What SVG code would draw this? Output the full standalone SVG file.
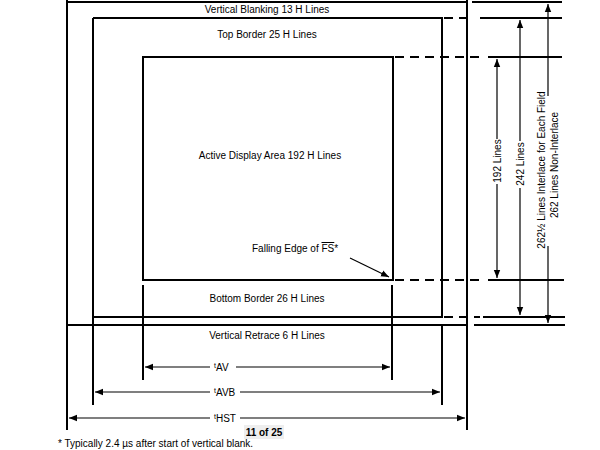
<svg xmlns="http://www.w3.org/2000/svg" width="600" height="450" viewBox="0 0 600 450">
<style>
.l{stroke:#000;stroke-width:2;fill:none}
.t{stroke:#000;stroke-width:1.2;fill:none}
.d{stroke:#000;stroke-width:2;stroke-dasharray:9,6;fill:none}
text{font-family:"Liberation Sans",Arial,sans-serif;font-size:10px;fill:#000}
.c{text-anchor:middle}
</style>
<defs>
<marker id="a" viewBox="0 0 10 10" refX="10" refY="5" markerWidth="8" markerHeight="8" orient="auto-start-reverse" markerUnits="userSpaceOnUse"><path d="M0,1 L10,5 L0,9 z" fill="#000"/></marker>
</defs>
<rect width="600" height="450" fill="#fff"/>
<g id="outer"><path class="l" d="M67,0 V430 M67,2 H467 M67,325 H467 M467,0 V430"/><text class="c" x="267" y="13">Vertical Blanking 13 H Lines</text><text class="c" x="267" y="339">Vertical Retrace 6 H Lines</text></g>
<g id="border"><path class="l" d="M93,18 V405 M93,18 H442 V317 H93 M442,325 V405"/><text class="c" x="267" y="38">Top Border 25 H Lines</text><text class="c" x="267" y="302">Bottom Border 26 H Lines</text></g>
<g id="active"><path class="l" d="M143,57 H393 V280 H143 Z M143,285 V380 M392,285 V380"/><text class="c" x="270" y="159">Active Display Area 192 H Lines</text><text x="252" y="252">Falling Edge of <tspan text-decoration="overline">FS</tspan>*</text></g>
<g id="connectors">
<path class="d" d="M444,18 H474 M395,57 H482 M395,280 H480 M444,317 H480"/>
<path class="l" d="M472,2 H562 M480,18 H562 M488,57 H562 M488,280 H564 M483,317 H565 M474,325 H565"/>
<path class="t" d="M350,258 L389,277" marker-end="url(#a)"/>
<path class="t" d="M497,139 V59" marker-end="url(#a)"/><path class="t" d="M497,184 V278" marker-end="url(#a)"/>
<path class="t" d="M520,141 V20" marker-end="url(#a)"/><path class="t" d="M520,188 V315" marker-end="url(#a)"/>
<path class="t" d="M548,96 V4" marker-end="url(#a)"/><path class="t" d="M548,246 V323" marker-end="url(#a)"/>
<path class="t" d="M210,367 H145" marker-end="url(#a)"/><path class="t" d="M236,367 H390" marker-end="url(#a)"/>
<path class="t" d="M210,392 H95" marker-end="url(#a)"/><path class="t" d="M240,392 H440" marker-end="url(#a)"/>
<path class="t" d="M210,418 H69" marker-end="url(#a)"/><path class="t" d="M240,418 H465" marker-end="url(#a)"/>
</g>
<g id="labels">
<g font-size="9"><text class="c" transform="translate(500.5,161) rotate(-90)">192 Lines</text>
<text class="c" transform="translate(523.5,164) rotate(-90)">242 Lines</text>
<text class="c" transform="translate(545,170) rotate(-90)">262½ Lines Interlace for Each Field</text><text class="c" transform="translate(558,165) rotate(-90)">262 Lines Non-Interlace</text></g>
<text x="214" y="371"><tspan font-size="7" dy="-3">t</tspan><tspan dy="3">AV</tspan></text>
<text x="214" y="396"><tspan font-size="7" dy="-3">t</tspan><tspan dy="3">AVB</tspan></text>
<text x="214" y="422"><tspan font-size="7" dy="-3">t</tspan><tspan dy="3">HST</tspan></text>
</g>
<rect x="244" y="425" width="40" height="14" fill="#eee"/><text class="c" x="264" y="436" font-weight="bold">11 of 25</text>
<text x="58" y="447" font-size="9">* Typically 2.4 µs after start of vertical blank.</text>
</svg>
